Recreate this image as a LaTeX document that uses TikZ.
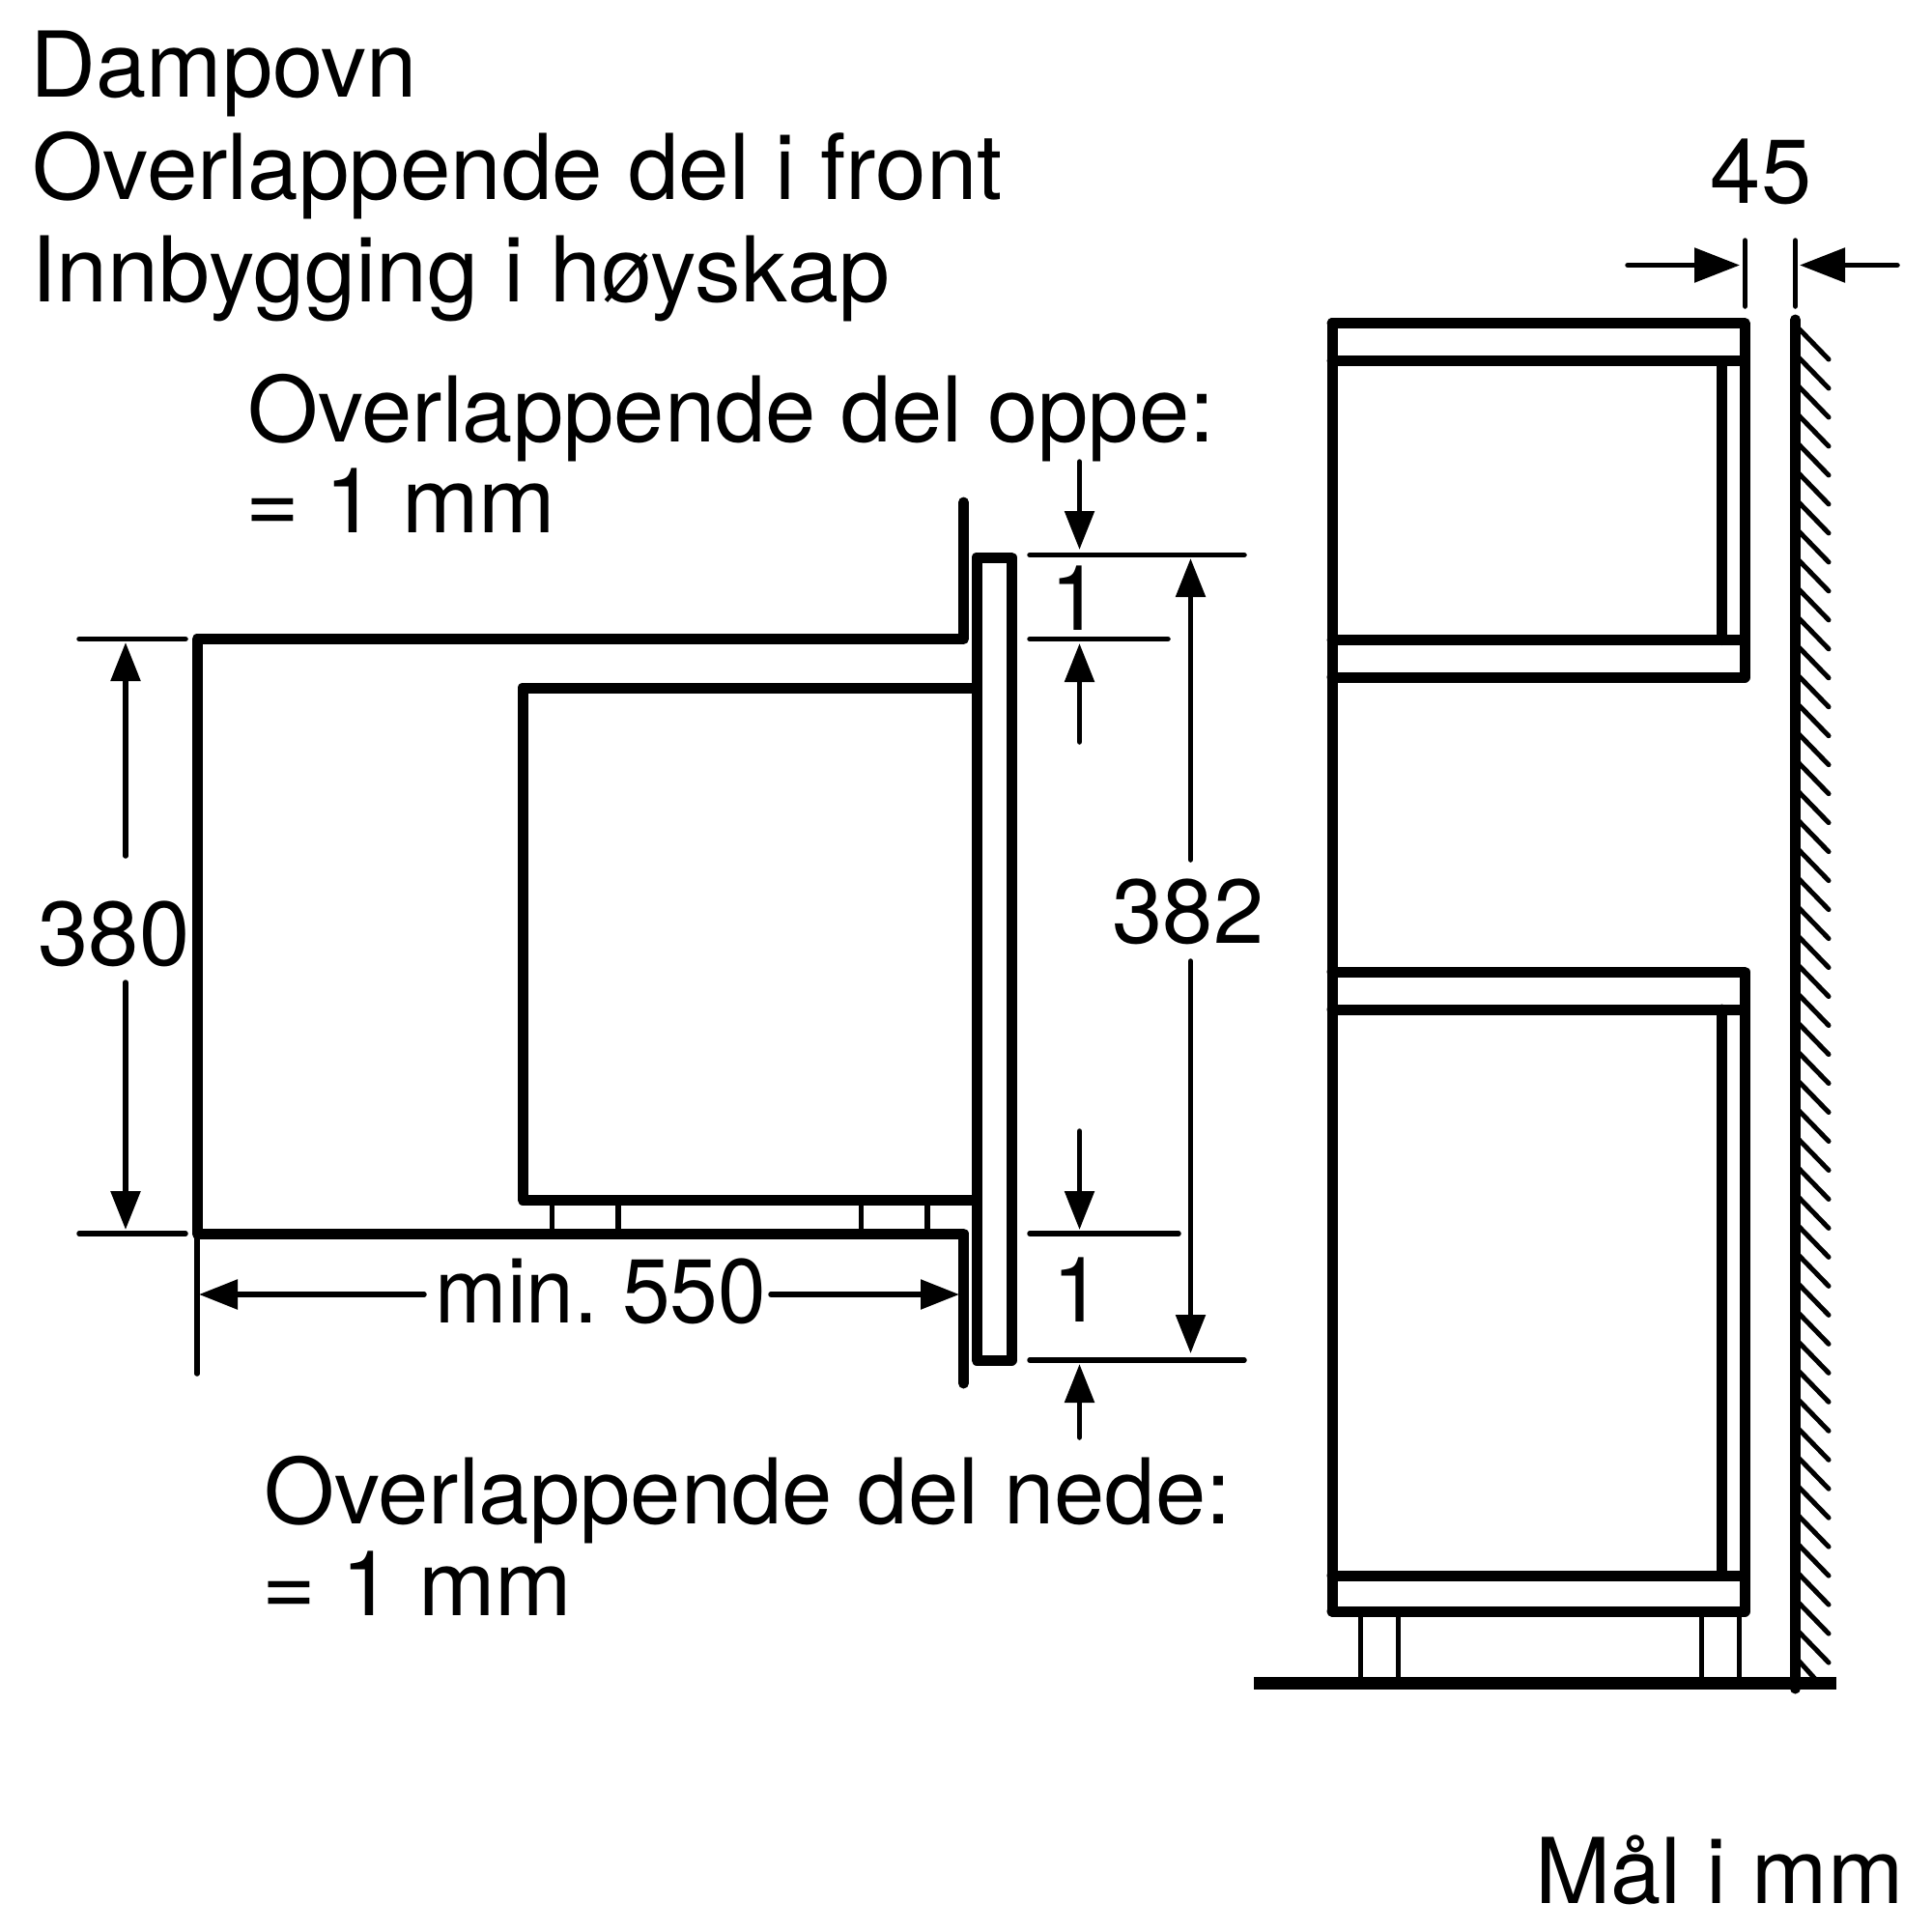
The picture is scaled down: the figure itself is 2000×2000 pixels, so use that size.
\documentclass[tikz,border=0pt]{standalone}
\usepackage{fontspec}
\setmainfont{TeX Gyre Heros}
\usetikzlibrary{arrows.meta}
\frenchspacing
\tikzset{
  thick line/.style={line width=11pt,line cap=round,line join=round},
  thin line/.style={line width=5.5pt,line cap=round,line join=round},
  foot line/.style={line width=5.5pt,line cap=butt},
  hatch line/.style={line width=5pt,line cap=round},
  label text/.style={anchor=base west,inner sep=0pt,font=\fontsize{94}{94}\selectfont},
  dim text/.style={anchor=base,inner sep=0pt,font=\fontsize{94}{94}\selectfont},
  dim arrow/.style={thin line,-{Triangle[length=40pt,width=30pt]}},
  wide arrow/.style={thin line,-{Triangle[length=47pt,width=35pt]}},
}
\begin{document}
\begin{tikzpicture}[x=1pt,y=-1pt]
\useasboundingbox (0,0) rectangle (2000,2000);
\fill[white] (0,0) rectangle (2000,2000);
% title
\node[label text] (t1) at (31,100) {Dampovn};
\node[label text] (t2) at (33,206) {\scalebox{1.004}[1]{Overlappende del i front}};
\node[label text] (t3) at (32,312) {\scalebox{1.013}[1]{Innbygging i høyskap}};
\node[label text] (t4) at (256,457) {Overlappende del oppe:};
\node[label text] (t5) at (254,551) {\scalebox{1.016}[1]{= 1 mm}};
\node[label text] (t6) at (273,1577) {Overlappende del nede:};
\node[label text] (t7) at (271,1672) {\scalebox{1.016}[1]{= 1 mm}};
\node[label text,anchor=base east] (t8) at (1970.5,1970) {Mål i mm};
% oven side view
\draw[thick line] (997.5,520) -- (997.5,661.5) -- (204,661.5) -- (204,1277) -- (997.5,1277) -- (997.5,1432);
\draw[thick line] (1011,712) -- (541,712) -- (541,1242) -- (1011,1242);
\draw[thick line] (1011,577) rectangle (1047,1408);
\foreach \fx in {571.5,640,891.5,960} \draw[foot line] (\fx,1242) -- (\fx,1277);
% left dimensions
\draw[thin line] (82,661.5) -- (192,661.5);
\draw[thin line] (82,1277) -- (192,1277);
\draw[dim arrow] (130,886) -- (130,665);
\draw[dim arrow] (130,1017) -- (130,1273);
\node[dim text] (d380) at (118,999) {380};
\draw[thin line] (204,1277) -- (204,1422);
\draw[dim arrow] (439,1340) -- (206,1340);
\draw[dim arrow] (798,1340) -- (993,1340);
\node[dim text] (d550) at (622,1369) {\scalebox{0.95}[1]{min. 550}};
% right dimensions of oven
\draw[thin line] (1066,574.5) -- (1288,574.5);
\draw[thin line] (1066,661.5) -- (1209,661.5);
\draw[thin line] (1066,1277) -- (1220,1277);
\draw[thin line] (1066,1408) -- (1288,1408);
\draw[dim arrow] (1117.5,478) -- (1117.5,569);
\draw[dim arrow] (1117.5,768) -- (1117.5,666);
\draw[dim arrow] (1117.5,1171) -- (1117.5,1273);
\draw[dim arrow] (1117.5,1488) -- (1117.5,1412);
\node[dim text] (d1a) at (1114,652) {1};
\node[dim text] (d1b) at (1116,1368) {1};
\draw[dim arrow] (1232.5,890) -- (1232.5,578);
\draw[dim arrow] (1232.5,995) -- (1232.5,1401);
\node[dim text] (d382) at (1230,976) {382};
% cabinet
\draw[thick line] (1379,334.5) -- (1379,1668);
\draw[thick line] (1379,334.5) -- (1806,334.5) -- (1806,701) -- (1379,701);
\draw[thick line] (1379,373.5) -- (1806,373.5);
\draw[thick line] (1379,662.5) -- (1806,662.5);
\draw[thick line] (1782.5,373.5) -- (1782.5,662.5);
\draw[thick line] (1379,1006) -- (1806,1006) -- (1806,1668) -- (1379,1668);
\draw[thick line] (1379,1045) -- (1806,1045);
\draw[thick line] (1379,1631) -- (1806,1631);
\draw[thick line] (1782.5,1045) -- (1782.5,1631);
\foreach \fx in {1408.5,1447.5,1761.5,1800.5} \draw[foot line] (\fx,1668) -- (\fx,1742);
% floor and wall
\draw[line width=13pt] (1298,1742) -- (1901,1742);
\foreach \k in {0,...,45} \draw[hatch line] (1860,{341+29.98*\k-3}) -- (1893,{341+29.98*\k+31});
\draw[hatch line,line cap=butt] (1860,1717) -- (1879,1738);
\draw[thick line] (1858.5,331) -- (1858.5,1748);
% 45 dimension
\draw[thin line] (1806.5,249) -- (1806.5,317);
\draw[thin line] (1858.5,249) -- (1858.5,317);
\draw[wide arrow] (1685,274.5) -- (1801,274.5);
\draw[wide arrow] (1964,274.5) -- (1863,274.5);
\node[dim text] (d45) at (1823,210) {45};
\end{tikzpicture}
\end{document}
